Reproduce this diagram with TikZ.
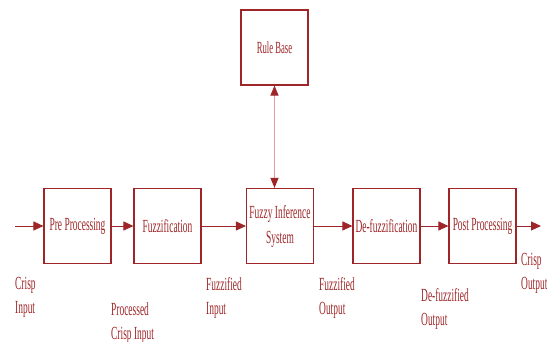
\documentclass[tikz,border=0pt]{standalone}
\usepackage{fontspec}
\setmainfont{Liberation Serif}[FakeStretch=0.51]
\usetikzlibrary{arrows.meta}
\definecolor{dred}{RGB}{158,38,40}
\definecolor{lred}{RGB}{220,160,160}
\begin{document}
\begin{tikzpicture}[x=1pt,y=-1pt,
  blk/.style={draw=dred,line width=1.1pt,minimum width=67pt,minimum height=75pt,inner sep=0pt,text=dred,font=\fontsize{18.5}{25}\selectfont,align=center},
  lbl/.style={anchor=north west,inner sep=0pt,text=dred,align=left,font=\fontsize{18.5}{24}\selectfont},
  conn/.style={draw=dred,line width=0.9pt,-{Triangle[length=10pt,width=9pt]}},
]
\useasboundingbox (0,0) rectangle (547,342);
\node[blk] (pre) at (77.5,226) {Pre Processing};
\node[blk] (fuz) at (167.5,226) {Fuzzification};
\node[blk] (fis) at (280,226) {Fuzzy Inference\\System};
\node[blk] (def) at (386.5,226) {De-fuzzification};
\node[blk] (post) at (482.5,226) {Post Processing};
\node[blk,font=\fontsize{17}{20}\selectfont] (rule) at (274.5,47.5) {Rule Base};
\coordinate (in) at (15,226);
\coordinate (out) at (541,226);
\draw[conn] (in) -- (pre);
\draw[conn] (pre) -- (fuz);
\draw[conn] (fuz) -- (fis);
\draw[conn] (fis) -- (def);
\draw[conn] (def) -- (post);
\draw[conn] (post) -- (out);
\draw[draw=lred,line width=1pt,{Triangle[length=10pt,width=8pt,color=dred]}-{Triangle[length=10pt,width=8pt,color=dred]}] (rule.south) -- (rule.south |- fis.north);
\node[lbl] (l1) at (15,277) {Crisp\\Input};
\node[lbl] (l2) at (111,302) {Processed\\Crisp Input};
\node[lbl] (l3) at (206,277) {Fuzzified\\Input};
\node[lbl] (l4) at (319,277) {Fuzzified\\Output};
\node[lbl] (l5) at (421,288) {De-fuzzified\\Output};
\node[lbl] (l6) at (521,253) {Crisp\\Output};
\end{tikzpicture}
\end{document}
